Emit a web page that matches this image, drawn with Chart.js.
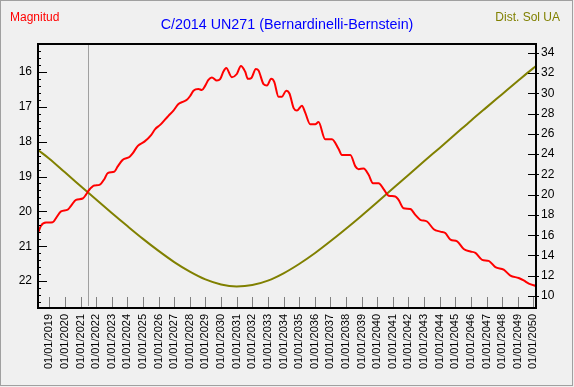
<!DOCTYPE html>
<html>
<head>
<meta charset="utf-8">
<script src="https://cdn.jsdelivr.net/npm/chart.js@4/dist/chart.umd.min.js"></script>
<style>
  html, body { margin: 0; padding: 0; background: #f0f0f0; }
  canvas { display: block; }
</style>
</head>
<body>
<canvas id="grafico" width="574" height="387"></canvas>
<script>
// Magnitud (fecha en años decimales)
const magFechas = [
    2018.28, 2018.47, 2018.79, 2019.22, 2019.43, 2019.75, 2020.18, 2020.39, 2020.71, 2021.14,
    2021.35, 2021.56, 2021.88, 2022.21, 2022.53, 2022.74, 2023.17, 2023.38, 2023.71, 2024.13,
    2024.35, 2024.67, 2025.09, 2025.52, 2025.78, 2026.10, 2026.42, 2026.63, 2026.95, 2027.27,
    2027.59, 2027.81, 2028.02, 2028.23, 2028.55, 2028.77, 2028.98, 2029.19, 2029.41, 2029.73,
    2029.94, 2030.15, 2030.33, 2030.69, 2031.01, 2031.27, 2031.54, 2031.72, 2031.93, 2032.23,
    2032.40, 2032.72, 2032.94, 2033.21, 2033.40, 2033.68, 2033.90, 2034.17, 2034.38, 2034.65,
    2034.86, 2035.18, 2035.39, 2035.71, 2036.03, 2036.24, 2036.67, 2037.10, 2037.53, 2037.74,
    2038.28, 2038.60, 2038.81, 2039.13, 2039.45, 2039.73, 2040.09, 2040.41, 2040.73, 2041.16,
    2041.37, 2041.69, 2042.12, 2042.44, 2042.76, 2043.19, 2043.62, 2044.04, 2044.36, 2044.69,
    2045.12, 2045.54, 2045.97, 2046.29, 2046.72, 2047.14, 2047.57, 2048.10, 2048.53, 2049.06,
    2049.38, 2049.71, 2050.17
];
const magnitud = [
    20.62, 20.41, 20.32, 20.31, 20.19, 20.00, 19.95, 19.84, 19.67, 19.63,
    19.52, 19.38, 19.26, 19.24, 19.07, 18.90, 18.86, 18.71, 18.52, 18.44,
    18.33, 18.12, 18.00, 17.81, 17.64, 17.52, 17.36, 17.26, 17.11, 16.92,
    16.85, 16.80, 16.69, 16.54, 16.49, 16.52, 16.40, 16.23, 16.16, 16.25,
    16.21, 15.99, 15.89, 16.15, 16.06, 15.83, 15.99, 16.20, 16.18, 15.92,
    15.96, 16.35, 16.39, 16.20, 16.28, 16.71, 16.71, 16.54, 16.62, 17.04,
    17.11, 16.97, 17.17, 17.50, 17.50, 17.44, 17.93, 17.93, 18.21, 18.38,
    18.38, 18.71, 18.79, 18.77, 18.95, 19.19, 19.19, 19.36, 19.55, 19.57,
    19.67, 19.91, 19.93, 20.10, 20.24, 20.29, 20.51, 20.58, 20.62, 20.81,
    20.86, 21.08, 21.15, 21.19, 21.39, 21.42, 21.60, 21.67, 21.84, 21.91,
    21.98, 22.07, 22.14
];

// Distancia al Sol (UA)
const distFechas = [
    2018.28, 2019, 2020, 2021, 2022, 2023, 2024, 2025, 2026, 2027, 2028, 2029, 2030,
    2031, 2032, 2033, 2034, 2035, 2036, 2037, 2038, 2039, 2040, 2041, 2042, 2043,
    2044, 2045, 2046, 2047, 2048, 2049, 2050, 2050.17
];
const distSol = [
    24.40, 23.55, 22.20, 20.86, 19.52, 18.19, 16.90, 15.64, 14.45, 13.35, 12.41, 11.64, 11.14,
    10.95, 11.08, 11.52, 12.24, 13.16, 14.22, 15.40, 16.64, 17.93, 19.26, 20.60, 21.95, 23.29,
    24.61, 25.95, 27.30, 28.61, 29.91, 31.21, 32.48, 32.68
];

// Marcas de los ejes
const anios = [];
for (let a = 2019; a <= 2050; a++) anios.push(a);
const ticksMag = [16, 17, 18, 19, 20, 21, 22];
const ticksDist = [10, 12, 14, 16, 18, 20, 22, 24, 26, 28, 30, 32, 34];
const hoy = 2021.5;

const FUENTE = "'Liberation Sans', Arial, sans-serif";

const marco = {
    id: 'marco',
    beforeDraw(chart) {
        const c = chart.ctx;
        c.save();
        c.fillStyle = '#f0f0f0';
        c.fillRect(0, 0, chart.width, chart.height);
        c.strokeStyle = '#a0a0a0';
        c.lineWidth = 1;
        c.strokeRect(0.5, 0.5, chart.width - 2, chart.height - 2);
        c.restore();
    },
    beforeDatasetsDraw(chart) {
        const c = chart.ctx, a = chart.chartArea;
        const x = Math.round(chart.scales.x.getPixelForValue(hoy)) + 0.5;
        c.save();
        c.strokeStyle = '#a0a0a0';
        c.lineWidth = 1;
        c.beginPath();
        c.moveTo(x, a.top);
        c.lineTo(x, a.bottom - 2);
        c.stroke();
        c.restore();
    },
    afterDraw(chart) {
        const c = chart.ctx, a = chart.chartArea;
        const sx = chart.scales.x, sy = chart.scales.y, sy1 = chart.scales.y1;
        c.save();
        // marcas inferiores
        c.strokeStyle = '#808080';
        c.lineWidth = 1;
        c.beginPath();
        anios.forEach((v) => {
            const x = Math.round(sx.getPixelForValue(v)) + 0.5;
            c.moveTo(x, a.bottom - 11);
            c.lineTo(x, a.bottom);
        });
        c.stroke();
        // marcas izquierda
        c.strokeStyle = '#000';
        c.beginPath();
        ticksMag.forEach((v) => {
            const y = Math.round(sy.getPixelForValue(v)) + 0.5;
            c.moveTo(a.left, y);
            c.lineTo(a.left + 9, y);
        });
        for (let v = 15.4; v < 22.7; v += 0.2) {
            const y = Math.round(sy.getPixelForValue(v)) + 0.5;
            c.moveTo(a.left, y);
            c.lineTo(a.left + 3, y);
        }
        // marcas derecha
        ticksDist.forEach((v) => {
            const y = Math.round(sy1.getPixelForValue(v)) + 0.5;
            c.moveTo(a.right - 8, y);
            c.lineTo(a.right + 3, y);
        });
        c.stroke();
        // marco
        c.lineWidth = 2;
        c.strokeRect(a.left, a.top, a.right - a.left, a.bottom - a.top);
        // textos
        c.textBaseline = 'middle';
        c.font = '14.3px ' + FUENTE;
        c.fillStyle = '#0000ff';
        c.textAlign = 'center';
        c.fillText('C/2014 UN271 (Bernardinelli-Bernstein)', 287, 25);
        c.font = '12px ' + FUENTE;
        c.fillStyle = '#ff0000';
        c.textAlign = 'left';
        c.fillText('Magnitud', 10, 18);
        c.fillStyle = '#808000';
        c.textAlign = 'right';
        c.fillText('Dist. Sol UA', 560, 18);
        c.restore();
    },
};

const puntos = (xs, ys) => xs.map((x, i) => ({ x, y: ys[i] }));

new Chart(document.getElementById('grafico'), {
    type: 'line',
    data: {
        datasets: [{
            label: 'Magnitud',
            data: puntos(magFechas, magnitud),
            yAxisID: 'y',
            borderColor: '#ff0000',
            borderWidth: 2,
            pointRadius: 0,
            cubicInterpolationMode: 'monotone',
            fill: false,
        }, {
            label: 'Dist. Sol UA',
            data: puntos(distFechas, distSol),
            yAxisID: 'y1',
            borderColor: '#808000',
            borderWidth: 2,
            pointRadius: 0,
            cubicInterpolationMode: 'monotone',
            fill: false,
        }],
    },
    options: {
        responsive: false,
        animation: false,
        devicePixelRatio: 1,
        layout: { padding: { top: 44, left: 0, right: 0, bottom: 0 } },
        plugins: {
            legend: { display: false },
            tooltip: { enabled: false },
        },
        scales: {
            x: {
                type: 'linear',
                min: 2018.276,
                max: 2050.17,
                afterBuildTicks: (s) => { s.ticks = anios.map((v) => ({ value: v })); },
                afterFit: (s) => { s.height = 79; },
                grid: { display: false, drawTicks: false },
                border: { display: false },
                ticks: {
                    autoSkip: false,
                    minRotation: 90,
                    maxRotation: 90,
                    padding: 6,
                    color: '#000',
                    font: { family: FUENTE, size: 11 },
                    callback: (v) => '01/01/' + v,
                },
            },
            y: {
                type: 'linear',
                position: 'left',
                reverse: true,
                min: 15.2,
                max: 22.77,
                afterBuildTicks: (s) => { s.ticks = ticksMag.map((v) => ({ value: v })); },
                afterFit: (s) => { s.width = 38; },
                grid: { display: false, drawTicks: false },
                border: { display: false },
                ticks: {
                    padding: 6,
                    color: '#000',
                    font: { family: FUENTE, size: 12 },
                },
            },
            y1: {
                type: 'linear',
                position: 'right',
                min: 8.82,
                max: 34.86,
                afterBuildTicks: (s) => { s.ticks = ticksDist.map((v) => ({ value: v })); },
                afterFit: (s) => { s.width = 38; },
                grid: { display: false, drawTicks: false },
                border: { display: false },
                ticks: {
                    padding: 5,
                    color: '#000',
                    font: { family: FUENTE, size: 12 },
                },
            },
        },
    },
    plugins: [marco],
});
</script>
</body>
</html>
